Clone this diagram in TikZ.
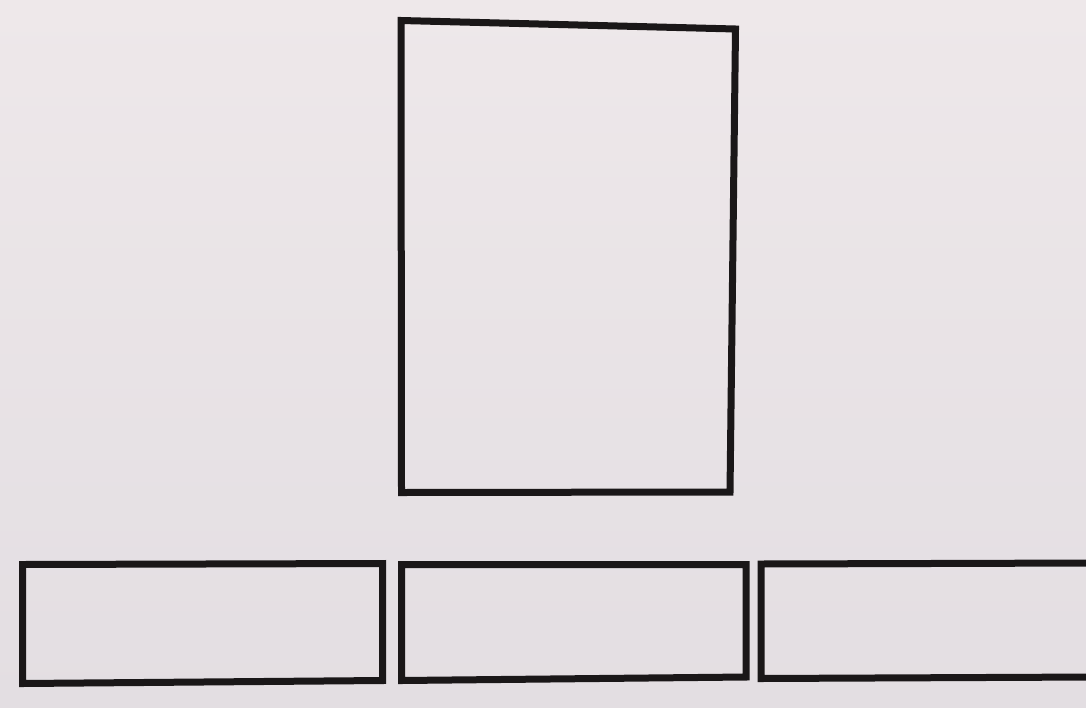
\documentclass[tikz,border=0pt]{standalone}
\usepackage{tikz}
\definecolor{paperTop}{HTML}{EEE8EA}
\definecolor{paperBot}{HTML}{E3DEE2}
\definecolor{ink}{HTML}{1A1718}
\tikzset{frame/.style={draw=ink,line width=7pt,line join=miter}}
\begin{document}
\begin{tikzpicture}[x=1pt,y=-1pt]
\useasboundingbox (0,0) rectangle (1086,707);
\shade[top color=paperTop,bottom color=paperBot] (0,0) rectangle (1086,707);
\begin{scope}
\clip (0,0) rectangle (1086,707);
% tall upper box
\coordinate (bTL) at (401,20.5);
\coordinate (bTR) at (735.5,29);
\coordinate (bBR) at (730,492);
\coordinate (bBL) at (401.5,492.5);
\draw[frame] (bTL) -- (bTR) -- (bBR) -- (bBL) -- cycle;
% left lower box
\coordinate (lTL) at (22.5,564.5);
\coordinate (lTR) at (382.5,563.5);
\coordinate (lBR) at (382.5,680.5);
\coordinate (lBL) at (22.5,683.5);
\draw[frame] (lTL) -- (lTR) -- (lBR) -- (lBL) -- cycle;
% middle lower box
\coordinate (mTL) at (401.5,564.5);
\coordinate (mTR) at (746,564.5);
\coordinate (mBR) at (746,677);
\coordinate (mBL) at (401.5,680.5);
\draw[frame] (mTL) -- (mTR) -- (mBR) -- (mBL) -- cycle;
% right lower box (runs off the edge)
\coordinate (rTL) at (761,564);
\coordinate (rTR) at (1095,563);
\coordinate (rBR) at (1095,677);
\coordinate (rBL) at (761,678.5);
\draw[frame] (rTL) -- (rTR) -- (rBR) -- (rBL) -- cycle;
\end{scope}
\end{tikzpicture}
\end{document}
